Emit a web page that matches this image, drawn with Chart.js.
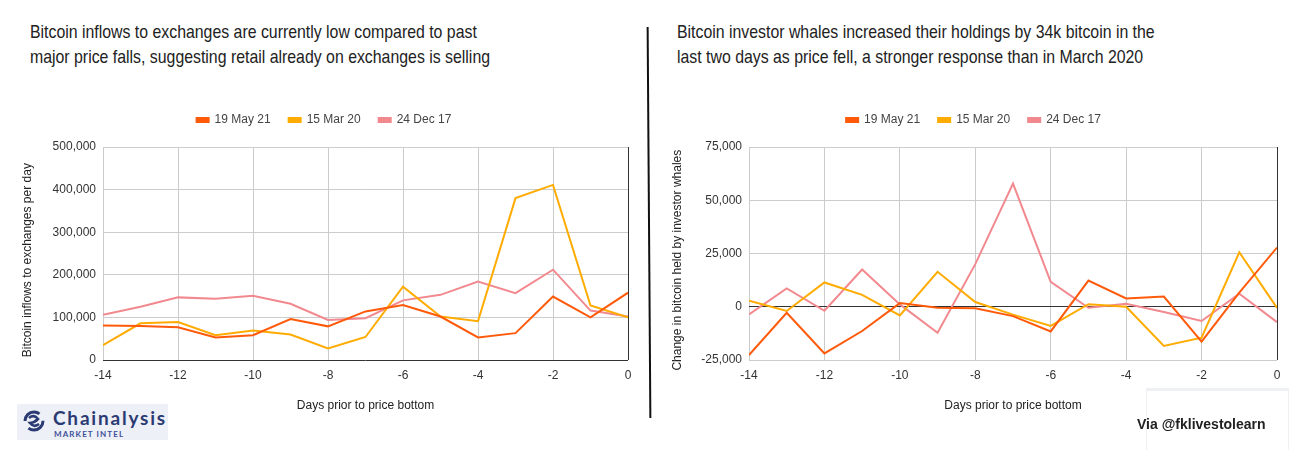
<!DOCTYPE html>
<html>
<head>
<meta charset="utf-8">
<script src="https://cdn.jsdelivr.net/npm/chart.js@4"></script>
<style>
  body { margin: 0; background: #fff; font-family: "Liberation Sans", Arial, sans-serif; }
  #wrap { position: relative; width: 1298px; height: 450px; overflow: hidden; }
  canvas { position: absolute; top: 0; }
  .title { position: absolute; top: 19px; font-size: 18.5px; line-height: 25px; color: #222; white-space: nowrap; transform: scaleX(0.857); transform-origin: 0 0; }
  #divider { position: absolute; left: 648px; top: 27px; width: 2px; height: 391px; background: #111; transform: rotate(-0.4deg); }
  #logo { position: absolute; left: 17px; top: 404px; width: 151px; height: 36px; background: #edf0f6; }
  #logo svg { position: absolute; left: 6px; top: 5px; }
  #logo .name { position: absolute; left: 36px; top: 4px; line-height: 19px; font-family: Lato, sans-serif; font-weight: 700; font-size: 19px; color: #2b3a72; letter-spacing: 1.8px; }
  #logo .sub { position: absolute; left: 37px; top: 25px; font-family: Lato, sans-serif; font-weight: 700; font-size: 8px; color: #3d4f9a; letter-spacing: 1.1px; }
  #via { position: absolute; left: 1137px; top: 416px; font-weight: 700; font-size: 14px; color: #222; }
  #corner { position: absolute; left: 1146px; top: 388px; width: 141px; height: 62px; border-top: 3px solid #eef0f4; border-left: 1px solid #f0f0f0; border-right: 1px solid #f0f0f0; }
</style>
</head>
<body>
<div id="wrap">
  <div class="title" style="left:30px">Bitcoin inflows to exchanges are currently low compared to past<br>major price falls, suggesting retail already on exchanges is selling</div>
  <div class="title" style="left:677px">Bitcoin investor whales increased their holdings by 34k bitcoin in the<br>last two days as price fell, a stronger response than in March 2020</div>
  <div id="divider"></div>
  <canvas id="leftChart" width="648" height="450" style="left:0"></canvas>
  <canvas id="rightChart" width="648" height="450" style="left:650px"></canvas>
  <div id="corner"></div>
  <div id="logo">
    <svg width="22" height="24" viewBox="0 0 22 24">
      <circle cx="11" cy="12" r="9" fill="none" stroke="#2b3a72" stroke-width="3" stroke-dasharray="20 8"/>
      <path d="M6 9 Q11 5 15 10 Q11 14 7 14 Q11 19 16 15" fill="none" stroke="#2b3a72" stroke-width="2.6"/>
    </svg>
    <div class="name">Chainalysis</div>
    <div class="sub">MARKET INTEL</div>
  </div>
  <div id="via">Via @fklivestolearn</div>
</div>
<script>
// days before the price bottom
const days = [-14, -13, -12, -11, -10, -9, -8, -7, -6, -5, -4, -3, -2, -1, 0];
const seriesNames = ['19 May 21', '15 Mar 20', '24 Dec 17'];
const seriesColors = ['#ff5a0a', '#ffab00', '#f2898f'];

// left: bitcoin inflows to exchanges per day
const inflowsMay21 = [81000, 80000, 77000, 53000, 58000, 96000, 79000, 114000, 129000, 102000, 53000, 63000, 149000, 100000, 158000];
const inflowsMar20 = [35000, 86000, 89000, 58000, 69000, 60000, 27000, 54000, 172000, 102000, 91000, 380000, 411000, 128000, 100000];
const inflowsDec17 = [106000, 125000, 147000, 144000, 151000, 132000, 94000, 98000, 140000, 153000, 184000, 157000, 212000, 116000, 102000];

// right: change in bitcoin held by investor whales
const whalesMay21 = [-22700, -2800, -21900, -11400, 1700, -500, -700, -4400, -11600, 12300, 3900, 4800, -16400, 6600, 27800];
const whalesMar20 = [2800, -2000, 11400, 5600, -4100, 16400, 2200, -3700, -9000, 1200, 0, -18400, -14500, 25600, -500];
const whalesDec17 = [-3600, 8600, -1900, 17500, 1100, -12200, 20000, 57800, 11700, -500, 1400, -2500, -6700, 6100, -7200];

Chart.defaults.font.family = "'Liberation Sans', Arial, sans-serif";
Chart.defaults.font.size = 12;
Chart.defaults.color = '#444';

// push plot area down below the legend
const legendGap = {
    id: 'legendGap',
    beforeInit(chart) {
        const fit = chart.legend.fit;
        chart.legend.fit = function() {
            fit.bind(chart.legend)();
            this.height += 11;
        };
    }
};

function makeChart(id, seriesList, yMin, yMax, yStep, yTitle, yWidth, padRight) {
    const datasets = seriesList.map((vals, i) => ({
        label: seriesNames[i],
        data: days.map((d, j) => ({ x: d, y: vals[j] })),
        borderColor: seriesColors[i],
        backgroundColor: seriesColors[i],
        borderWidth: 2,
        pointRadius: 0,
        tension: 0,
        fill: false
    }));
    const gridColor = c => c.tick && c.tick.value === 0 ? '#333' : '#ccc';
    return new Chart(document.getElementById(id), {
        type: 'line',
        data: { datasets: datasets },
        options: {
            responsive: false,
            animation: false,
            layout: { padding: { top: 96, right: padRight, left: 20, bottom: 0 } },
            plugins: {
                legend: {
                    labels: { boxWidth: 12, boxHeight: 4, padding: 18, color: '#444', font: { size: 12 } }
                },
                tooltip: { enabled: false }
            },
            scales: {
                x: {
                    type: 'linear',
                    min: -14, max: 0,
                    ticks: { stepSize: 2, padding: 8, color: '#333' },
                    grid: { color: gridColor, drawTicks: false },
                    border: { display: false },
                    title: { display: true, text: 'Days prior to price bottom', color: '#222', padding: { top: 0, bottom: 37 } },
                    afterFit: s => { s.height = 90; }
                },
                y: {
                    min: yMin, max: yMax,
                    ticks: { stepSize: yStep, padding: 7, color: '#333', callback: v => v.toLocaleString('en-US') },
                    grid: { color: gridColor, drawTicks: false },
                    border: { display: false },
                    // trailing spaces nudge the rotated title a little downwards, as in the original
                    title: { display: true, text: yTitle + '    ', color: '#222', padding: { top: 0, bottom: 0 } },
                    afterFit: s => { s.width = yWidth; }
                }
            }
        },
        plugins: [legendGap]
    });
}

makeChart('leftChart', [inflowsMay21, inflowsMar20, inflowsDec17], 0, 500000, 100000,
    'Bitcoin inflows to exchanges per day', 83, 20);
makeChart('rightChart', [whalesMay21, whalesMar20, whalesDec17], -25000, 75000, 25000,
    'Change in bitcoin held by investor whales', 79, 21);
</script>
</body>
</html>
